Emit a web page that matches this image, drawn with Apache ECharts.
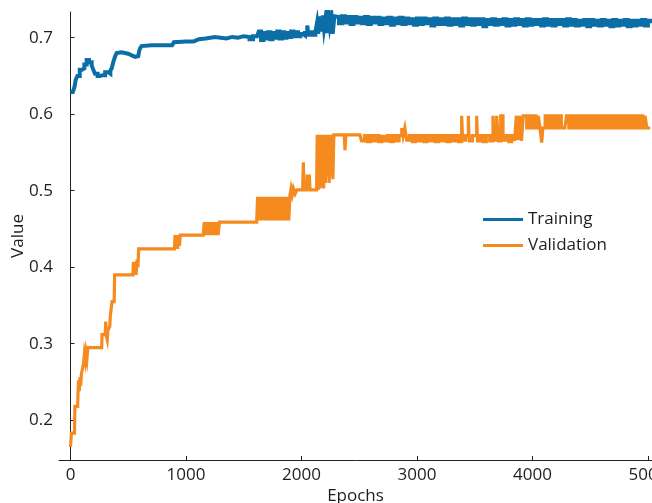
<!DOCTYPE html>
<html><head><meta charset="utf-8">
<script src="https://cdn.jsdelivr.net/npm/echarts@6/dist/echarts.min.js"></script>
<style>html,body{margin:0;padding:0;background:#fff}#c{width:652px;height:503px}</style>
</head><body><div id="c"></div>
<script>
const xTicks = [0, 1000, 2000, 3000, 4000, 5000];
const yTicks = [0.2, 0.3, 0.4, 0.5, 0.6, 0.7];
const seriesNames = ['Training', 'Validation'];

const trainData = [
[0,0.629],[20,0.631],[25,0.628],[35,0.636],[45,0.645],[60,0.65],[80,0.658],[100,0.66],[120,0.665],[140,0.671],[160,0.668],[183,0.664],[200,0.657],[212,0.653],[235,0.65],[255,0.651],[280,0.651],[300,0.655],[327,0.653],[345,0.657],[357,0.66],[370,0.668],[385,0.675],[400,0.68],[414,0.681],[440,0.68],[470,0.679],[500,0.68],[515,0.677],[530,0.675],[560,0.676],[587,0.678],[595,0.683],[602,0.686],[615,0.689],[630,0.69],[700,0.69],[800,0.69],[880,0.69],[895,0.694],[905,0.695],[1000,0.695],[1060,0.696],[1080,0.698],[1110,0.699],[1170,0.701],[1250,0.7],[1300,0.699],[1350,0.701],[1400,0.7],[1450,0.702],[1500,0.701],[1550,0.698],[1580,0.702],[1615,0.7],[1630,0.708],[1650,0.697],[1670,0.706],[1690,0.699],[1710,0.707],[1730,0.698],[1750,0.706],[1770,0.7],[1790,0.708],[1810,0.699],[1830,0.707],[1850,0.7],[1870,0.706],[1890,0.701],[1910,0.708],[1930,0.702],[1950,0.707],[1970,0.702],[1990,0.705],[2010,0.703],[2030,0.706],[2050,0.716],[2060,0.704],[2080,0.707],[2100,0.704],[2120,0.707],[2135,0.72],[2145,0.705],[2160,0.728],[2170,0.708],[2185,0.729],[2195,0.712],[2210,0.728],[2220,0.706],[2235,0.729],[2245,0.715],[2260,0.728],[2270,0.705],[2285,0.728],
[2300,0.727],[2325,0.719],[2350,0.728],[2375,0.72],[2400,0.727],[2425,0.718],[2450,0.727],[2475,0.72],[2500,0.726],[2525,0.719],[2550,0.727],[2575,0.718],[2600,0.726],[2625,0.72],[2650,0.726],[2675,0.718],[2700,0.725],[2725,0.719],[2750,0.726],[2775,0.717],[2800,0.725],[2825,0.719],[2850,0.726],[2875,0.718],[2900,0.725],[2925,0.719],[2950,0.724],[2975,0.717],[3000,0.725],[3025,0.718],[3050,0.725],[3075,0.719],[3100,0.724],[3125,0.716],[3150,0.725],[3175,0.718],[3200,0.724],[3225,0.718],[3250,0.725],[3275,0.717],[3300,0.724],[3325,0.718],[3350,0.724],[3375,0.716],[3400,0.725],[3425,0.718],[3450,0.724],[3475,0.717],[3500,0.724],[3525,0.718],[3550,0.724],[3575,0.715],[3600,0.723],[3625,0.718],[3650,0.724],[3675,0.717],[3700,0.723],[3725,0.718],[3750,0.724],[3775,0.716],[3800,0.723],[3825,0.717],[3850,0.724],[3875,0.718],[3900,0.723],[3925,0.716],[3950,0.724],[3975,0.717],[4000,0.723],[4025,0.718],[4050,0.723],[4075,0.716],[4100,0.724],[4125,0.717],[4150,0.723],[4175,0.716],[4200,0.723],[4225,0.718],[4250,0.723],[4275,0.716],[4300,0.724],[4325,0.717],[4350,0.723],[4375,0.716],[4400,0.722],[4425,0.717],[4450,0.723],[4475,0.715],[4500,0.723],[4525,0.717],[4550,0.722],[4575,0.716],[4600,0.723],[4625,0.717],[4650,0.722],[4675,0.715],[4700,0.723],[4725,0.716],[4750,0.722],[4775,0.717],[4800,0.723],[4825,0.715],[4850,0.722],[4875,0.716],[4900,0.722],[4925,0.717],[4950,0.723],[4975,0.716],[5000,0.722],[5020,0.719]
];

const valData = [
[0,0.165],[8,0.183],[35,0.183],[38,0.218],[62,0.218],[65,0.236],[70,0.252],[76,0.238],[82,0.256],[88,0.245],[94,0.26],[110,0.26],[114,0.275],[120,0.286],[128,0.278],[134,0.288],[142,0.28],[150,0.295],[270,0.295],[273,0.312],[300,0.312],[305,0.329],[310,0.31],[318,0.305],[324,0.318],[340,0.322],[345,0.337],[355,0.337],[360,0.355],[378,0.355],[382,0.39],[540,0.39],[545,0.407],[552,0.39],[560,0.407],[568,0.39],[576,0.41],[584,0.4],[590,0.424],[900,0.424],[905,0.442],[912,0.424],[920,0.442],[928,0.424],[936,0.442],[944,0.428],[950,0.442],
[1150,0.442],[1158,0.459],[1166,0.442],[1174,0.459],[1182,0.442],[1190,0.459],[1198,0.442],[1206,0.459],[1214,0.442],[1222,0.459],[1230,0.442],[1238,0.459],[1246,0.442],[1254,0.459],[1262,0.442],[1270,0.459],[1278,0.442],[1290,0.459],
[1612,0.459],[1620,0.492],[1630,0.461],[1640,0.492],[1650,0.461],[1660,0.492],[1670,0.461],[1680,0.492],[1690,0.461],[1700,0.492],[1710,0.461],[1720,0.492],[1730,0.461],[1740,0.492],[1750,0.461],[1760,0.492],[1770,0.461],[1780,0.492],[1790,0.461],[1800,0.492],[1810,0.461],[1820,0.492],[1830,0.461],[1840,0.492],[1850,0.461],[1860,0.492],[1870,0.461],[1880,0.492],[1890,0.461],[1900,0.494],[1910,0.503],[1920,0.495],[1930,0.503],[1945,0.496],[1960,0.501],
[2010,0.501],[2016,0.537],[2022,0.501],[2045,0.501],[2050,0.521],[2058,0.501],[2068,0.521],[2074,0.501],[2131,0.501],[2136,0.573],[2144,0.501],[2152,0.573],[2160,0.503],[2168,0.573],[2176,0.505],[2184,0.573],[2192,0.503],[2200,0.573],[2208,0.51],[2216,0.573],[2224,0.52],[2232,0.573],[2240,0.51],[2248,0.573],[2256,0.52],[2264,0.573],[2272,0.515],[2280,0.573],
[2370,0.573],[2377,0.553],[2384,0.573],[2506,0.573],[2520,0.565],[2545,0.572],[2570,0.564],[2595,0.572],[2620,0.565],[2645,0.572],[2670,0.564],[2695,0.571],[2720,0.565],[2745,0.572],[2770,0.564],[2795,0.572],[2820,0.565],[2845,0.572],[2868,0.582],[2880,0.571],[2895,0.582],[2911,0.566],[2935,0.572],[2960,0.564],[2985,0.572],[3010,0.565],[3035,0.572],[3060,0.564],[3085,0.572],[3110,0.565],[3135,0.572],[3160,0.564],[3185,0.572],[3210,0.565],[3235,0.572],[3260,0.564],[3285,0.572],[3310,0.565],[3335,0.572],[3360,0.564],[3387,0.598],[3395,0.566],[3420,0.572],[3445,0.598],[3452,0.565],[3480,0.572],[3517,0.598],[3524,0.565],[3550,0.572],[3575,0.564],[3600,0.572],[3630,0.565],[3658,0.598],[3670,0.566],[3690,0.598],[3705,0.565],[3725,0.598],[3745,0.566],[3770,0.572],[3795,0.564],[3820,0.572],[3845,0.565],[3860,0.598],[3875,0.566],[3890,0.598],[3905,0.565],[3920,0.598],
[3950,0.582],[3970,0.598],[3990,0.582],[4010,0.598],[4030,0.582],[4050,0.598],[4065,0.582],[4080,0.563],[4090,0.582],[4110,0.598],[4130,0.582],[4150,0.598],[4170,0.582],[4190,0.598],[4210,0.582],[4230,0.598],[4250,0.582],[4280,0.582],[4295,0.598],[4315,0.582],[4335,0.598],[4355,0.582],[4375,0.598],[4395,0.582],[4415,0.598],[4435,0.582],[4455,0.598],[4475,0.582],[4495,0.598],[4515,0.582],[4535,0.598],[4555,0.582],[4575,0.598],[4595,0.582],[4615,0.598],[4635,0.582],[4655,0.598],[4675,0.582],[4695,0.598],[4715,0.582],[4735,0.598],[4755,0.582],[4775,0.598],[4795,0.582],[4815,0.598],[4835,0.582],[4855,0.598],[4875,0.582],[4895,0.598],[4915,0.582],[4935,0.598],[4955,0.582],[4975,0.598],[4990,0.582],[5020,0.582]
];

const colors = ['#0c6ea6', '#f58a1f'];
const FONT = '"Open Sans", "Noto Sans", sans-serif';
const axisColor = '#222';
const textColor = '#1e1e1e';

const chart = echarts.init(document.getElementById('c'), null, {renderer: 'canvas'});
chart.setOption({
  animation: false,
  backgroundColor: '#fff',
  grid: {left: 59, right: 0, top: 12, bottom: 43, containLabel: false, outerBoundsMode: 'none'},
  legend: {
    orient: 'vertical', left: 478, top: 206,
    itemWidth: 40, itemHeight: 3, itemGap: 9, icon: 'rect',
    textStyle: {fontFamily: FONT, fontSize: 17, color: textColor},
    data: seriesNames
  },
  xAxis: {
    type: 'value', min: -99.6, max: 5035,
    name: 'Epochs', nameLocation: 'middle', nameGap: 28, nameMoveOverlap: false,
    nameTextStyle: {fontFamily: FONT, fontSize: 17, color: textColor},
    axisLine: {show: true, lineStyle: {color: axisColor, width: 1}},
    axisTick: {show: true, inside: true, length: 4, customValues: xTicks, lineStyle: {color: axisColor}},
    axisLabel: {customValues: xTicks, fontFamily: FONT, fontSize: 17, color: textColor, margin: 7,
      showMinLabel: true, showMaxLabel: true, formatter: v => String(Math.round(v))},
    splitLine: {show: false}
  },
  yAxis: {
    type: 'value', min: 0.148, max: 0.7336,
    name: 'Value', nameLocation: 'middle', nameGap: 32, nameRotate: 90, nameMoveOverlap: false,
    nameTextStyle: {fontFamily: FONT, fontSize: 17, color: textColor},
    axisLine: {show: true, lineStyle: {color: axisColor, width: 1}},
    axisTick: {show: true, inside: true, length: 4, customValues: yTicks, lineStyle: {color: axisColor}},
    axisLabel: {customValues: yTicks, fontFamily: FONT, fontSize: 17, color: textColor, margin: 6,
      formatter: v => v.toFixed(1)},
    splitLine: {show: false}
  },
  series: [
    {name: seriesNames[0], type: 'line', data: trainData, showSymbol: false, symbol: 'none', step: 'end',
     color: colors[0], lineStyle: {width: 4, color: colors[0], join: 'miter'}, sampling: null},
    {name: seriesNames[1], type: 'line', data: valData, showSymbol: false, symbol: 'none', step: 'end',
     color: colors[1], lineStyle: {width: 3.2, color: colors[1], join: 'miter'}, sampling: null}
  ]
});
</script></body></html>
